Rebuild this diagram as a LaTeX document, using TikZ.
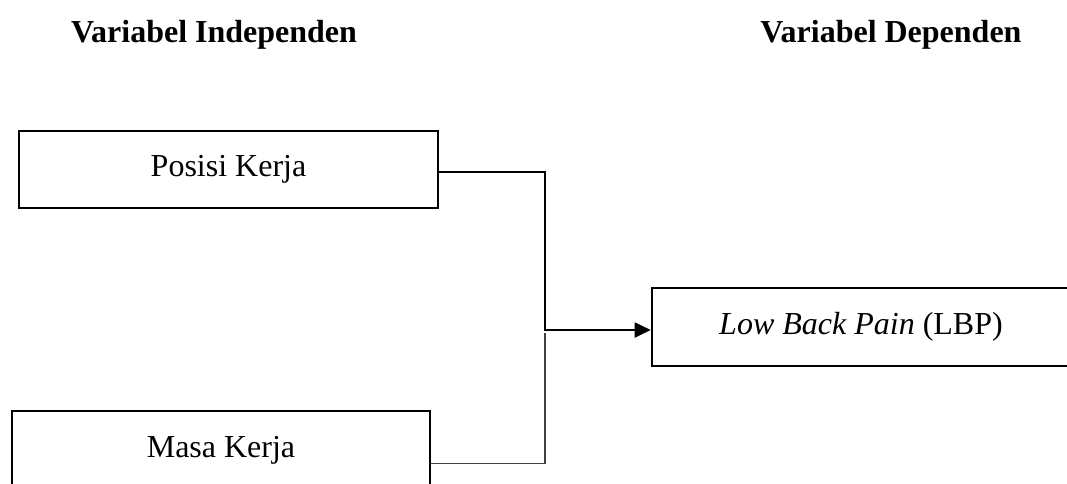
\documentclass[tikz,border=0pt]{standalone}
\usepackage{fontspec}
\setmainfont{Liberation Serif}
\usetikzlibrary{arrows.meta,positioning}

\begin{document}
\begin{tikzpicture}[
    x=0.375pt, y=-0.375pt,
    var/.style={draw, line width=0.7pt, minimum width=157pt, minimum height=29pt, inner sep=0pt, text height=5.5pt, text depth=0pt, font=\fontsize{12}{14}\selectfont},
    head/.style={anchor=base, font=\fontsize{12}{14}\selectfont\bfseries},
    link/.style={line width=0.75pt},
    thinlink/.style={line width=0.4pt, draw=black!75}
  ]
    \useasboundingbox (0,0) rectangle (1067,483);

    \node[head] (indep) at (214,42) {Variabel Independen};
    \node[head] (dep) at (891,42) {Variabel Dependen};

    \node[var] (posisi) at (228.5,169.5) {Posisi Kerja};
    \node[var] (masa) at (221,450) {Masa Kerja};
    \node[var] (lbp) at (861,327) {\textit{Low Back Pain} (LBP)};

    \coordinate (join) at (545,330);

    \draw[link, -{Triangle[length=6pt,width=5.6pt]}] ([yshift=-1pt]posisi.east) -| (join) -- (join -| lbp.west);
    \draw[thinlink] ([yshift=-5pt]masa.east) -| ([yshift=-1.1pt]join);
  \end{tikzpicture}
\end{document}
